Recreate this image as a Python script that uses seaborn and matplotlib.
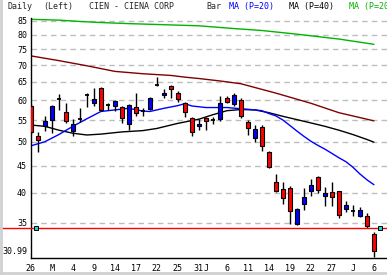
import numpy as np
import pandas as pd
import matplotlib
matplotlib.use("Agg")
import matplotlib.pyplot as plt
from matplotlib.lines import Line2D
from matplotlib.ticker import FixedLocator, FixedFormatter, NullFormatter
import seaborn as sns

# ---------------- data ----------------
opens  = [58.5, 51.3, 53.5, 55.1, 60.4, 57.0, 52.3, 55.3, 61.5, 59.4,
          63.3, 58.8, 58.6, 58.2, 54.0, 58.2, 57.2, 57.8, 64.1, 61.4,
          63.9, 62.0, 59.2, 55.5, 53.5, 55.4, 54.9, 55.3, 60.6, 59.0,
          60.0, 54.5, 50.8, 53.3, 47.8, 41.9, 40.7, 40.8, 34.9, 38.0,
          40.2, 42.9, 39.4, 40.1, 40.2, 37.2, 36.8, 36.0, 36.1, 33.3]
highs  = [59.0, 52.1, 56.0, 58.8, 61.7, 59.4, 55.3, 58.0, 61.8, 63.3,
          63.5, 59.4, 60.1, 58.5, 59.1, 62.0, 58.0, 60.8, 66.3, 63.0,
          64.1, 62.6, 59.6, 55.8, 55.3, 55.8, 55.8, 61.0, 61.2, 61.8,
          60.6, 55.0, 53.8, 53.7, 47.9, 43.3, 41.9, 41.2, 37.3, 40.8,
          42.4, 43.0, 40.9, 41.9, 40.3, 38.6, 37.8, 37.5, 36.6, 33.6]
lows   = [51.8, 47.7, 52.3, 51.9, 57.4, 54.3, 51.3, 54.6, 58.3, 58.5,
          57.2, 57.4, 57.3, 54.4, 52.6, 56.0, 56.0, 57.5, 63.9, 60.6,
          60.6, 59.6, 55.8, 51.2, 52.6, 52.6, 54.0, 54.8, 59.2, 58.4,
          55.5, 51.5, 49.9, 48.1, 44.5, 40.1, 38.0, 34.9, 34.7, 37.0,
          39.4, 39.9, 37.7, 37.7, 35.7, 36.7, 36.0, 35.9, 34.2, 30.1]
closes = [52.2, 50.3, 54.8, 58.5, 60.4, 54.7, 54.1, 55.3, 61.5, 60.4,
          57.4, 58.8, 59.8, 55.5, 58.8, 56.6, 57.2, 60.6, 64.1, 62.0,
          63.1, 60.2, 57.0, 52.1, 54.1, 54.7, 54.9, 59.2, 59.5, 61.5,
          56.1, 53.0, 52.9, 49.1, 44.7, 40.2, 39.1, 36.8, 37.2, 39.2,
          41.4, 40.4, 40.0, 39.2, 36.2, 37.8, 36.8, 37.1, 34.6, 30.99]

# x-axis labels (trading-day index -> label)
date_label_idx = [0, 3, 6, 9, 12, 15, 18, 21, 24, 25, 28, 31, 34, 37, 40, 43, 46, 49]
date_labels    = ["26", "M", "4", "9", "14", "17", "22", "25", "31", "J",
                  "6", "11", "14", "19", "22", "27", "J", "6"]

# moving averages (values read at selected trading-day indices)
ma20_idx = [0, 2, 4, 6, 8, 10, 11, 14, 16, 17, 19, 21, 22, 23, 25, 28, 30, 32,
            33, 34, 35, 36, 37, 38, 39, 40, 41, 42, 43, 44, 45, 46, 47, 48, 49]
ma20_val = [49.1, 50.0, 51.6, 53.5, 55.3, 57.1, 57.3, 57.9, 57.2, 57.1, 57.9,
            58.6, 59.1, 58.5, 58.1, 58.1, 57.8, 57.5, 57.3, 56.6, 56.0, 55.0,
            53.7, 52.4, 51.2, 50.1, 49.2, 48.4, 47.5, 46.6, 45.8, 44.7, 43.4,
            42.3, 41.4]
ma40_idx = [0, 2, 4, 6, 8, 10, 13, 16, 18, 21, 24, 26, 28, 30, 32, 34, 36, 38,
            40, 42, 44, 46, 48, 49]
ma40_val = [53.8, 53.5, 52.6, 51.9, 51.5, 51.7, 52.2, 52.5, 53.0, 54.2, 55.2,
            56.3, 57.3, 57.6, 57.5, 56.8, 55.9, 55.1, 54.3, 53.5, 52.6, 51.6,
            50.5, 49.9]
ma100_idx = [0, 4, 8, 12, 16, 20, 22, 24, 27, 30, 35, 40, 44, 49]
ma100_val = [72.9, 71.4, 69.8, 68.1, 67.4, 66.9, 66.4, 66.0, 65.3, 64.5, 61.9,
             59.2, 56.8, 54.8]
ma200_idx = [0, 4, 7, 10, 14, 19, 24, 29, 33, 38, 44, 49]
ma200_val = [85.6, 85.3, 84.8, 84.4, 84.0, 83.6, 83.2, 82.2, 81.5, 80.2, 78.5,
             76.7]

ytick_vals   = [85, 80, 75, 70, 65, 60, 55, 50, 45, 40, 35, 30.99]
ytick_labels = ["85", "80", "75", "70", "65", "60", "55", "50", "45", "40",
                "35", "30.99"]
grid_vals    = [85, 80, 75, 70, 65, 60, 55, 50, 45, 40, 35]

hline_value = 34.2
hline_handle_idx = [0.8, 49.9]

# ---------------- style ----------------
sns.set_style("white")
plt.rcParams["font.family"] = ["DejaVu Sans Mono", "DejaVu Sans"]
FS = 6.0

W, H = 387, 275
fig = plt.figure(figsize=(W / 100, H / 100), dpi=100)
left_px, right_px, top_px, bot_px = 30.5, 386.5, 18, 258
ax = fig.add_axes([left_px / W, 1 - bot_px / H,
                   (right_px - left_px) / W, (bot_px - top_px) / H])

n = len(opens)
x = np.arange(n)
o = np.array(opens); c = np.array(closes)
hi = np.array(highs); lo = np.array(lows)

ax.set_yscale("log")
ax.set_ylim(30.0, 86.1)
ax.set_xlim(-0.05, 50.8)

# gridlines
ax.hlines(grid_vals, -0.05, 50.8, colors="#bdbdbd", linestyles=(0, (4, 3)),
          lw=1, zorder=1)

# moving averages via seaborn
sns.lineplot(x=ma200_idx, y=ma200_val, ax=ax, color="#00b400", lw=1, zorder=2)
sns.lineplot(x=ma100_idx, y=ma100_val, ax=ax, color="#800000", lw=1, zorder=2)
sns.lineplot(x=ma40_idx, y=ma40_val, ax=ax, color="black", lw=1, zorder=2)
sns.lineplot(x=ma20_idx, y=ma20_val, ax=ax, color="#0000ff", lw=1, zorder=2)

# candles
ax.vlines(x, lo, hi, colors="black", lw=1, zorder=3)
up = c > o
dn = c < o
dj = c == o
body_w = 0.6
ax.bar(x[up], (c - o)[up], bottom=o[up], width=body_w, color="#0000ff",
       edgecolor="black", lw=0.8, zorder=4)
ax.bar(x[dn], (o - c)[dn], bottom=c[dn], width=body_w, color="#ff0000",
       edgecolor="black", lw=0.8, zorder=4)
ax.hlines(c[dj], x[dj] - 0.32, x[dj] + 0.32, colors="black", lw=1.3, zorder=4)

# horizontal line across the whole chart, with handles
ax.axhline(hline_value, xmin=-left_px / (right_px - left_px), xmax=1.01,
           color="#ff0000", lw=1, clip_on=False, zorder=5)
ax.plot(hline_handle_idx, [hline_value] * len(hline_handle_idx), ls="none",
        marker="s", ms=3.2, mfc="#00e0e0", mec="black", mew=0.7, zorder=6,
        clip_on=False)

# axes / ticks
for s in ["top", "right"]:
    ax.spines[s].set_visible(False)
for s in ["left", "bottom"]:
    ax.spines[s].set_color("black")
    ax.spines[s].set_linewidth(1)

ax.yaxis.set_major_locator(FixedLocator(ytick_vals))
ax.yaxis.set_major_formatter(FixedFormatter(ytick_labels))
ax.yaxis.set_minor_locator(FixedLocator(np.arange(31, 87, 1.0)))
ax.yaxis.set_minor_formatter(NullFormatter())
ax.xaxis.set_major_locator(FixedLocator(date_label_idx))
ax.xaxis.set_major_formatter(FixedFormatter(date_labels))
ax.xaxis.set_minor_locator(FixedLocator(x))

ax.tick_params(axis="y", which="major", length=2, width=1, pad=0.5,
               labelsize=FS, direction="out", colors="black")
ax.tick_params(axis="y", which="minor", length=1.5, width=0.8, direction="out")
ax.tick_params(axis="x", which="major", length=3, width=1, pad=1,
               labelsize=FS, direction="out", colors="black")
ax.tick_params(axis="x", which="minor", length=1.5, width=0.8, direction="out")

# header texts
ty = 1 - 6.5 / H
fig.text(8 / W, ty, "Daily", fontsize=FS, va="center", ha="left")
fig.text(43 / W, ty, "(Left)", fontsize=FS, va="center", ha="left")
fig.text(89 / W, ty, "CIEN - CIENA CORP", fontsize=FS, va="center", ha="left")
fig.text(206 / W, ty, "Bar", fontsize=FS, va="center", ha="left")
fig.text(229 / W, ty, "MA (P=20)", fontsize=FS, va="center", ha="left",
         color="#0000ff")
fig.text(289 / W, ty, "MA (P=40)", fontsize=FS, va="center", ha="left",
         color="black")
fig.text(349 / W, ty, "MA (P=200)", fontsize=FS, va="center", ha="left",
         color="#00b400")

# window border
fig.add_artist(Line2D([1 / W, 1 / W], [0, 1], color="#d0d0d0", lw=2))
fig.add_artist(Line2D([0, 1], [2 / H, 2 / H], color="#d0d0d0", lw=2))

fig.savefig("out.png", dpi=100)
